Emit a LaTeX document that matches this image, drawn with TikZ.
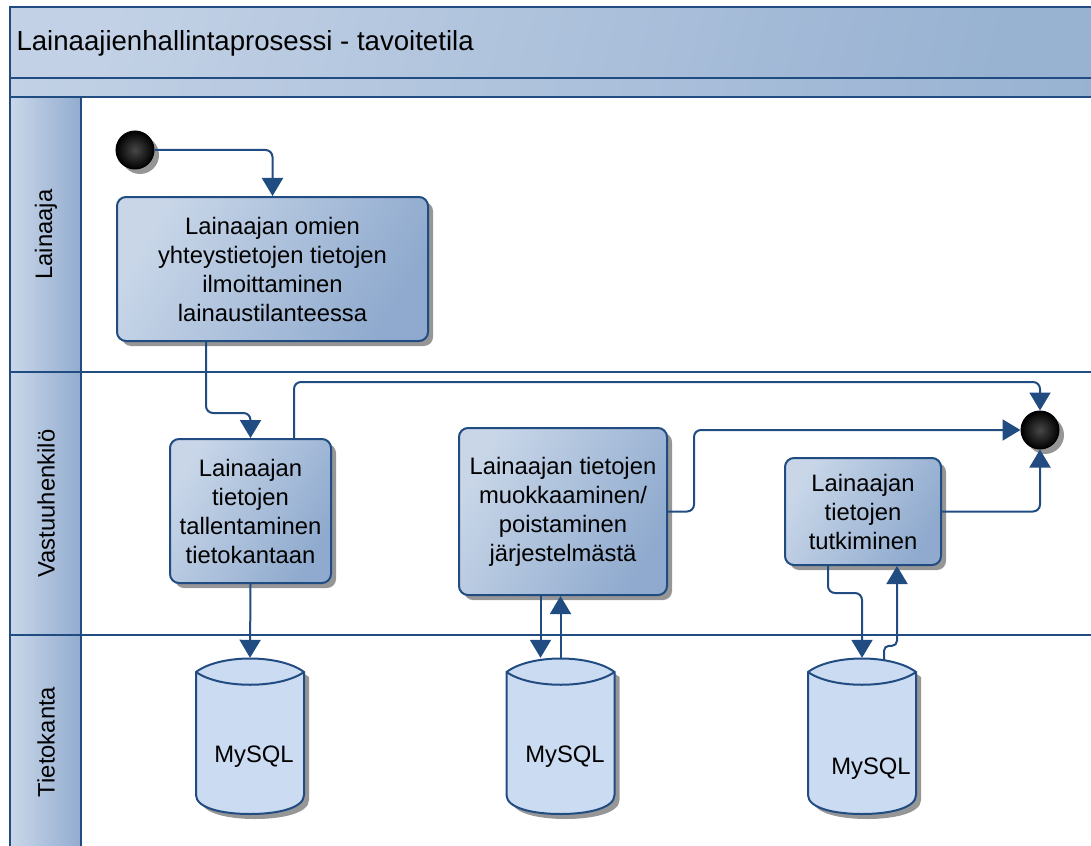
\documentclass[tikz,border=0pt]{standalone}
\usepackage{fontspec}
\setmainfont{Liberation Sans}
\usetikzlibrary{arrows.meta,shadows,calc}

\definecolor{edge}{RGB}{33,76,130}
\definecolor{hdrL}{RGB}{194,209,229}
\definecolor{hdrR}{RGB}{152,178,210}
\definecolor{laneL}{RGB}{202,215,233}
\definecolor{laneR}{RGB}{146,172,208}
\definecolor{boxL}{RGB}{200,214,232}
\definecolor{boxR}{RGB}{143,170,206}
\definecolor{dbfill}{RGB}{203,219,241}
\definecolor{shade}{RGB}{150,150,150}

% draws a database cylinder around the (invisible) node #1
\newcommand\drawdb[1]{%
  \begin{scope}[shift={(#1.center)}]
    \path[dbbody] (-54,-64) -- (-54,59)
      .. controls (-54,72) and (-28,78) .. (0,78)
      .. controls (28,78) and (54,72) .. (54,59)
      -- (54,-64)
      .. controls (30,-82) and (-30,-82) .. (-54,-64) -- cycle;
    \draw[dbline] (-54,-64) .. controls (-30,-47) and (30,-47) .. (54,-64);
  \end{scope}}

\begin{document}
\begin{tikzpicture}[x=1pt,y=-1pt,
  frame/.style={draw=edge, line width=2.5pt},
  conn/.style={draw=edge, line width=2pt, rounded corners=7pt,
    -{Triangle[length=18pt,width=21pt]}},
  boxshadow/.style={drop shadow={shadow xshift=5pt, shadow yshift=-5pt,
    fill=shade, opacity=1}},
  act/.style={draw=edge, line width=2pt, rounded corners=9pt,
    left color=boxL, right color=boxR, shading angle=60,
    align=center, inner sep=0pt,
    font=\fontsize{23.8}{29}\selectfont, boxshadow},
  dot/.style={circle, draw=black, line width=1pt, minimum size=38pt,
    inner sep=0pt, inner color=black!72, outer color=black, boxshadow},
  dbnode/.style={rectangle, minimum width=108pt, minimum height=156pt,
    inner sep=0pt},
  dbbody/.style={draw=edge, line width=2pt, fill=dbfill, boxshadow},
  dbline/.style={draw=edge, line width=2pt},
  dbtext/.style={font=\fontsize{23.8}{29}\selectfont},
  lanelbl/.style={rotate=90, font=\fontsize{23.8}{29}\selectfont},
]
\useasboundingbox (0,0) rectangle (1091,845);

% pool header
\path[frame, left color=hdrL, right color=hdrR, shading angle=75] (10,7) rectangle (1100,78);
\path[frame, left color=hdrL, right color=hdrR] (10,78) rectangle (1100,97);
\node[anchor=west, font=\fontsize{27.6}{30}\selectfont] (title) at (13,43)
  {Lainaajienhallintaprosessi - tavoitetila};

% lane label column
\path[frame, left color=laneL, right color=laneR] (10,97) rectangle (81,372);
\path[frame, left color=laneL, right color=laneR] (10,372) rectangle (81,635);
\path[frame, left color=laneL, right color=laneR] (10,635) rectangle (81,860);
\node[lanelbl] (l1) at (46,234.5) {Lainaaja};
\node[lanelbl] (l2) at (46,503.5) {Vastuuhenkilö};
\node[lanelbl] (l3) at (46,742) {Tietokanta};

% lane separators
\draw[frame] (81,372) -- (1100,372);
\draw[frame] (81,635) -- (1100,635);

% start and end
\node[dot] (s) at (135,150) {};
\node[dot] (e) at (1040,430) {};

% activities
\node[act, minimum width=311pt, minimum height=144pt] (b1) at (272.5,269)
  {Lainaajan omien\\yhteystietojen tietojen\\ilmoittaminen\\lainaustilanteessa};
\node[act, minimum width=161pt, minimum height=144pt] (b2) at (250.5,511)
  {Lainaajan\\tietojen\\tallentaminen\\tietokantaan};
\node[act, minimum width=208pt, minimum height=167pt] (b3) at (563,511.5)
  {Lainaajan tietojen\\muokkaaminen/\\poistaminen\\järjestelmästä};
\node[act, minimum width=156pt, minimum height=107pt] (b4) at (863,511.5)
  {Lainaajan\\tietojen\\tutkiminen};

% databases
\node[dbnode] (c1) at (250,736) {};
\node[dbnode] (c2) at (560.5,736) {};
\node[dbnode] (c3) at (862,736) {};
\drawdb{c1}
\drawdb{c2}
\drawdb{c3}
\node[dbtext] (t1) at ([shift={(4,21)}]c1.center) {MySQL};
\node[dbtext] (t2) at ([shift={(4.5,21)}]c2.center) {MySQL};
\node[dbtext] (t3) at ([shift={(9,33)}]c3.center) {MySQL};

% connection points
\coordinate (b1out) at ([xshift=-66.5pt]b1.south);
\coordinate (b2out) at ([xshift=43.5pt]b2.north);
\coordinate (c2in) at ([xshift=-20pt]c2.north);
\coordinate (b4out) at ([xshift=-35pt]b4.south);
\coordinate (b4in) at ([xshift=34pt]b4.south);
\coordinate (c3out) at ([shift={(22,2)}]c3.north);

% flows
\draw[conn] (s.east) -| (b1.north);
\draw[conn] (b1out) -- ++(0,71) -| (b2.north);
\draw[conn] (b2out) -- ++(0,-56) -| (e.north);
\draw[conn] (b3.east) -- ++(26,0) |- (e.west);
\draw[conn] (b4.east) -| (e.south);
\draw[conn] (b2.south) -- (c1.north);
\draw[conn] (b3.south -| c2in) -- (c2in);
\draw[conn] (c2.north) -- (c2.north |- b3.south);
\draw[conn] (b4out) -- ++(0,27) -| (c3.north);
\draw[conn, rounded corners=5pt] (c3out) -- ++(0,-14) -| (b4in);
\end{tikzpicture}
\end{document}
